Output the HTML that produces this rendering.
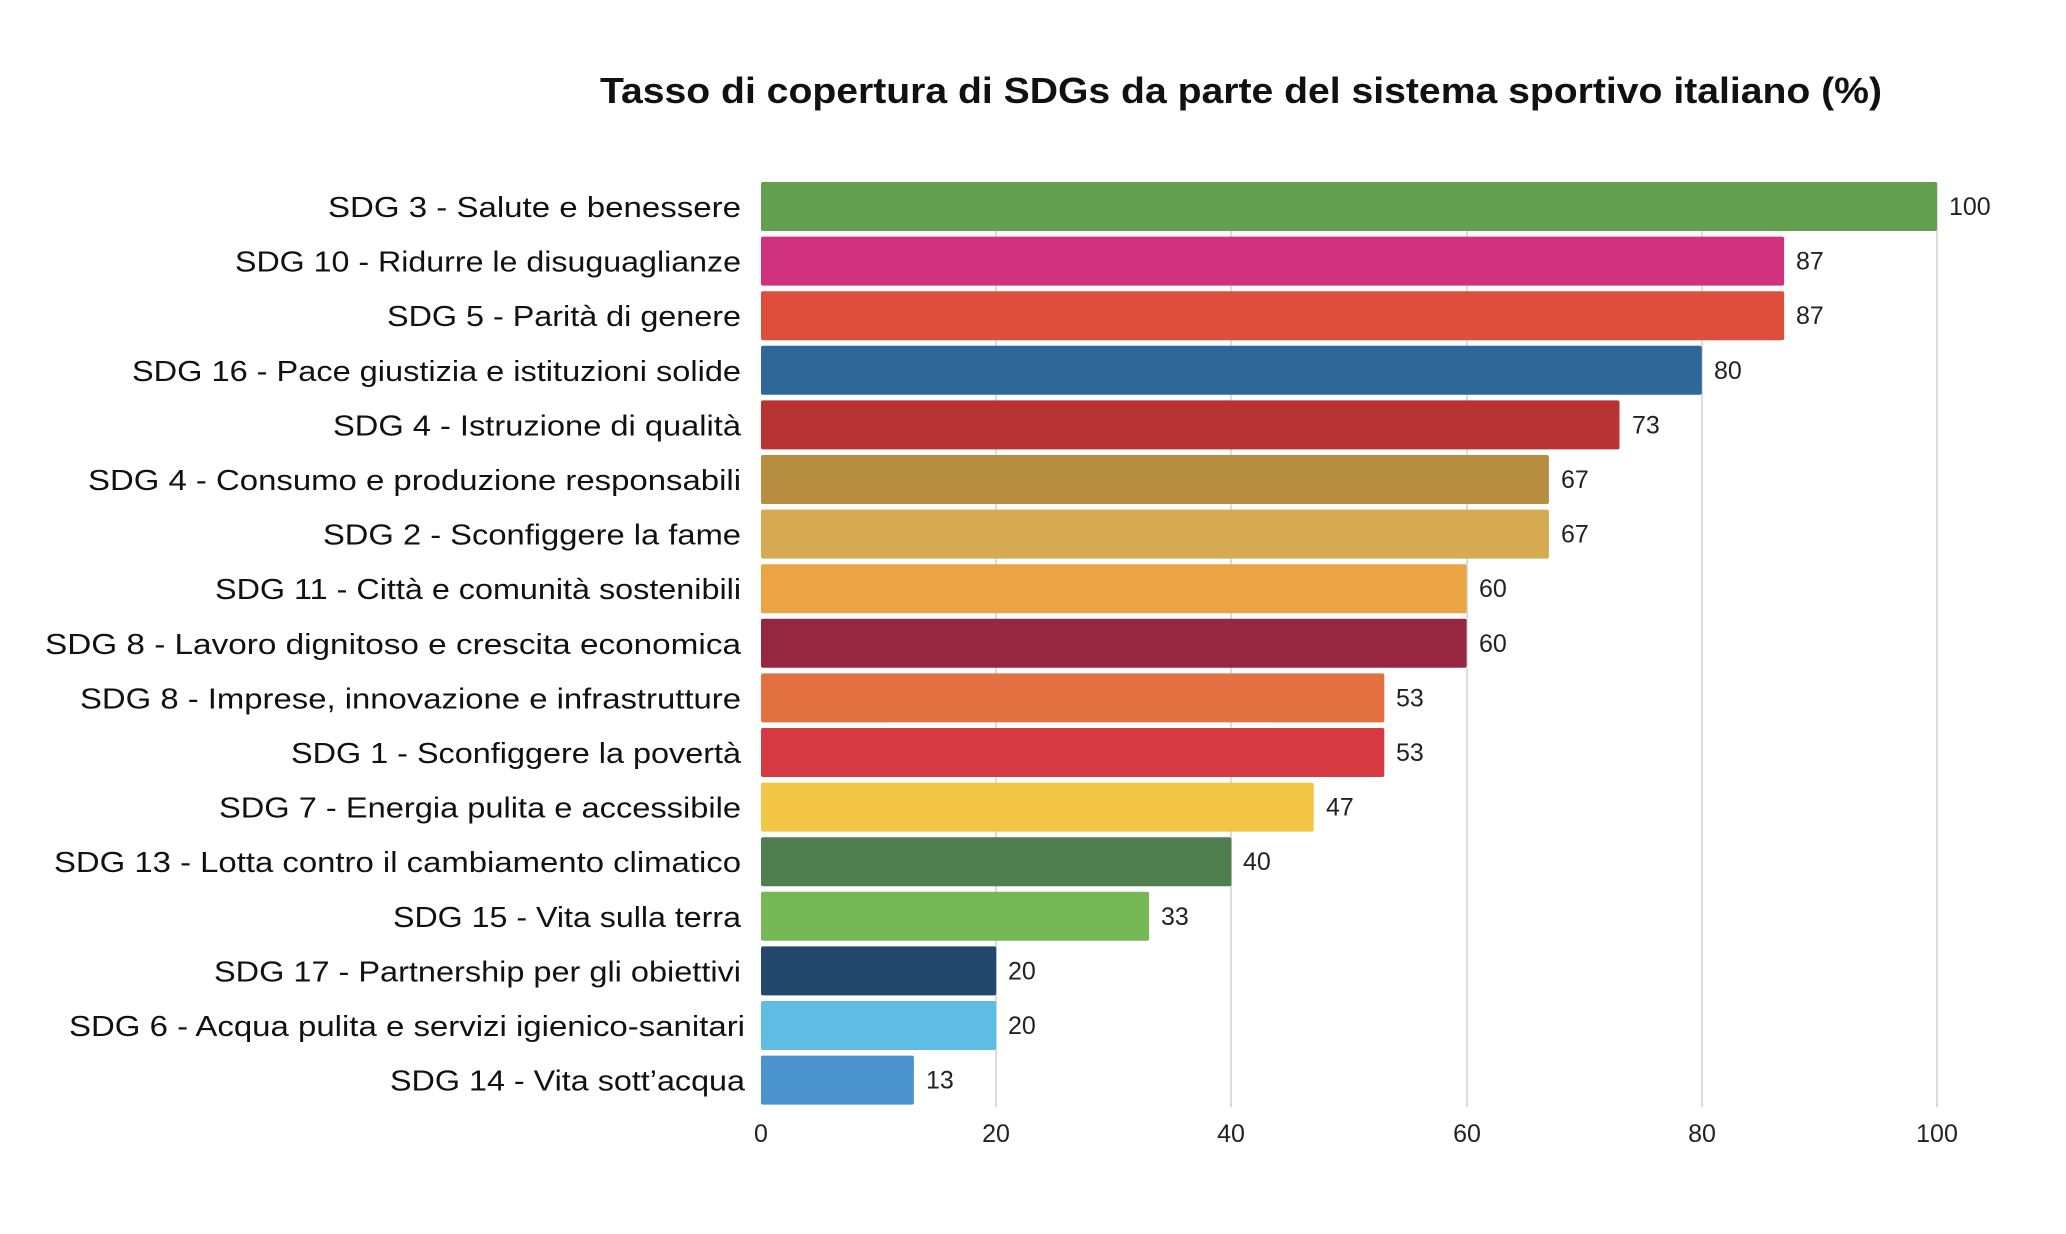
<!DOCTYPE html>
<html><head><meta charset="utf-8"><style>html,body{margin:0;padding:0;background:#fff}svg{display:block}</style></head>
<body>
<svg width="2066" height="1234" viewBox="0 0 2066 1234" xmlns="http://www.w3.org/2000/svg" font-family="'Liberation Sans', sans-serif">
<rect width="2066" height="1234" fill="#fff"/>
<text x="600" y="103" font-size="36" font-weight="bold" fill="#111" textLength="1282" lengthAdjust="spacingAndGlyphs">Tasso di copertura di SDGs da parte del sistema sportivo italiano (%)</text>
<g stroke="#dcdcdc" stroke-width="2">
<line x1="996" y1="182" x2="996" y2="1107"/>
<line x1="1231" y1="182" x2="1231" y2="1107"/>
<line x1="1467" y1="182" x2="1467" y2="1107"/>
<line x1="1702" y1="182" x2="1702" y2="1107"/>
<line x1="1937" y1="182" x2="1937" y2="1107"/>
</g>
<g>
<rect x="761" y="182" width="1176" height="49" rx="2" fill="#62a050"/>
<rect x="761" y="236.6" width="1023.1" height="49" rx="2" fill="#d03280"/>
<rect x="761" y="291.2" width="1023.1" height="49" rx="2" fill="#de4e3a"/>
<rect x="761" y="345.8" width="940.8" height="49" rx="2" fill="#2f6799"/>
<rect x="761" y="400.4" width="858.5" height="49" rx="2" fill="#b83334"/>
<rect x="761" y="455" width="787.9" height="49" rx="2" fill="#b78e40"/>
<rect x="761" y="509.6" width="787.9" height="49" rx="2" fill="#d6aa50"/>
<rect x="761" y="564.2" width="705.6" height="49" rx="2" fill="#eba344"/>
<rect x="761" y="618.8" width="705.6" height="49" rx="2" fill="#962743"/>
<rect x="761" y="673.4" width="623.3" height="49" rx="2" fill="#e27040"/>
<rect x="761" y="728" width="623.3" height="49" rx="2" fill="#d53a42"/>
<rect x="761" y="782.6" width="552.7" height="49" rx="2" fill="#f2c644"/>
<rect x="761" y="837.2" width="470.4" height="49" rx="2" fill="#4f7f4e"/>
<rect x="761" y="891.8" width="388.1" height="49" rx="2" fill="#74b955"/>
<rect x="761" y="946.4" width="235.2" height="49" rx="2" fill="#22486b"/>
<rect x="761" y="1001" width="235.2" height="49" rx="2" fill="#5fbde3"/>
<rect x="761" y="1055.6" width="152.9" height="49" rx="2" fill="#4a93cf"/>
</g>
<g font-size="25" fill="#222">
<text x="1949" y="215">100</text>
<text x="1796" y="269.6">87</text>
<text x="1796" y="324.2">87</text>
<text x="1714" y="378.8">80</text>
<text x="1632" y="433.4">73</text>
<text x="1561" y="488">67</text>
<text x="1561" y="542.6">67</text>
<text x="1479" y="597.2">60</text>
<text x="1479" y="651.8">60</text>
<text x="1396" y="706.4">53</text>
<text x="1396" y="761">53</text>
<text x="1326" y="815.6">47</text>
<text x="1243" y="870.2">40</text>
<text x="1161" y="924.8">33</text>
<text x="1008" y="979.4">20</text>
<text x="1008" y="1034">20</text>
<text x="926" y="1088.6">13</text>
</g>
<g font-size="29" fill="#111" lengthAdjust="spacingAndGlyphs">
<text x="328" y="217" textLength="413" lengthAdjust="spacingAndGlyphs">SDG 3 - Salute e benessere</text>
<text x="235" y="271.6" textLength="506" lengthAdjust="spacingAndGlyphs">SDG 10 - Ridurre le disuguaglianze</text>
<text x="387" y="326.2" textLength="354" lengthAdjust="spacingAndGlyphs">SDG 5 - Parità di genere</text>
<text x="132" y="380.8" textLength="609" lengthAdjust="spacingAndGlyphs">SDG 16 - Pace giustizia e istituzioni solide</text>
<text x="333" y="435.4" textLength="408" lengthAdjust="spacingAndGlyphs">SDG 4 - Istruzione di qualità</text>
<text x="88" y="490" textLength="653" lengthAdjust="spacingAndGlyphs">SDG 4 - Consumo e produzione responsabili</text>
<text x="323" y="544.6" textLength="418" lengthAdjust="spacingAndGlyphs">SDG 2 - Sconfiggere la fame</text>
<text x="215" y="599.2" textLength="526" lengthAdjust="spacingAndGlyphs">SDG 11 - Città e comunità sostenibili</text>
<text x="45" y="653.8" textLength="696" lengthAdjust="spacingAndGlyphs">SDG 8 - Lavoro dignitoso e crescita economica</text>
<text x="80" y="708.4" textLength="661" lengthAdjust="spacingAndGlyphs">SDG 8 - Imprese, innovazione e infrastrutture</text>
<text x="291" y="763" textLength="450" lengthAdjust="spacingAndGlyphs">SDG 1 - Sconfiggere la povertà</text>
<text x="219" y="817.6" textLength="522" lengthAdjust="spacingAndGlyphs">SDG 7 - Energia pulita e accessibile</text>
<text x="54" y="872.2" textLength="687" lengthAdjust="spacingAndGlyphs">SDG 13 - Lotta contro il cambiamento climatico</text>
<text x="393" y="926.8" textLength="348" lengthAdjust="spacingAndGlyphs">SDG 15 - Vita sulla terra</text>
<text x="214" y="981.4" textLength="527" lengthAdjust="spacingAndGlyphs">SDG 17 - Partnership per gli obiettivi</text>
<text x="69" y="1036" textLength="676" lengthAdjust="spacingAndGlyphs">SDG 6 - Acqua pulita e servizi igienico-sanitari</text>
<text x="390" y="1090.6" textLength="355" lengthAdjust="spacingAndGlyphs">SDG 14 - Vita sott’acqua</text>
</g>
<g font-size="25" fill="#222" text-anchor="middle">
<text x="761" y="1142">0</text><text x="996" y="1142">20</text><text x="1231" y="1142">40</text><text x="1467" y="1142">60</text><text x="1702" y="1142">80</text><text x="1937" y="1142">100</text>
</g>
</svg>
</body></html>
